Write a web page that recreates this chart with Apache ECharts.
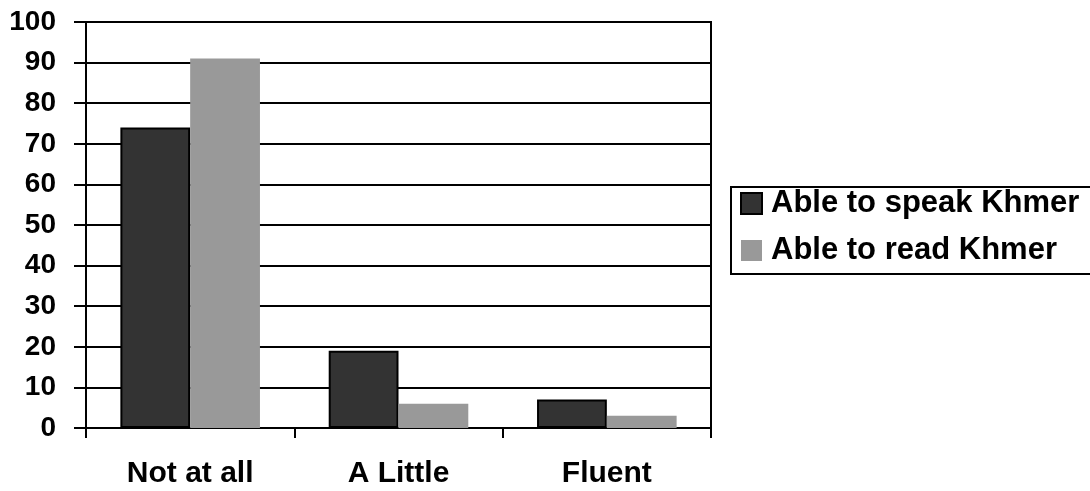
<!DOCTYPE html>
<html>
<head>
<meta charset="utf-8">
<script src="https://cdn.jsdelivr.net/npm/echarts@6/dist/echarts.min.js"></script>
<style>html,body{margin:0;padding:0;background:#fff;}#c{width:1090px;height:491px;}</style>
</head>
<body>
<div id="c"></div>
<script>
const categories = ['Not at all', 'A Little', 'Fluent'];
const speakValues = [74, 19, 7];
const readValues = [91, 6, 3];
const seriesNames = ['Able to speak Khmer', 'Able to read Khmer'];

const chart = echarts.init(document.getElementById('c'), null, {renderer: 'canvas'});
const font = '"Liberation Sans", Arial, sans-serif';
chart.setOption({
  animation: false,
  backgroundColor: '#fff',
  grid: {left: 86, right: 379, top: 22, bottom: 63, show: true, borderColor: '#000', borderWidth: 2, backgroundColor: 'transparent'},
  legend: {
    orient: 'vertical', left: 731, top: 187,
    padding: [1, 40, 8, 9],
    borderColor: '#000', borderWidth: 2,
    icon: 'rect',
    itemWidth: 21, itemHeight: 21, itemGap: 16,
    textStyle: {fontFamily: font, fontWeight: 'bold', fontSize: 31, color: '#000', lineHeight: 30, padding: [0, 0, 0, 4]},
    data: seriesNames
  },
  xAxis: {
    type: 'category', data: categories,
    axisLine: {lineStyle: {color: '#000', width: 2}},
    axisTick: {show: true, length: 10, lineStyle: {color: '#000', width: 2}},
    axisLabel: {fontFamily: font, fontWeight: 'bold', fontSize: 30, color: '#000', margin: 31}
  },
  yAxis: {
    type: 'value', min: 0, max: 100, interval: 10,
    axisLine: {show: true, lineStyle: {color: '#000', width: 2}},
    axisTick: {show: true, length: 12, lineStyle: {color: '#000', width: 2}},
    splitLine: {lineStyle: {color: '#000', width: 2}},
    axisLabel: {fontFamily: font, fontWeight: 'bold', fontSize: 28, color: '#000', margin: 30}
  },
  series: [
    {name: seriesNames[0], type: 'bar', data: speakValues, barGap: '0%', barCategoryGap: '33%',
     itemStyle: {color: '#333333', borderColor: '#000', borderWidth: 2}},
    {name: seriesNames[1], type: 'bar', data: readValues,
     itemStyle: {color: '#999999'}}
  ]
});
</script>
</body>
</html>
